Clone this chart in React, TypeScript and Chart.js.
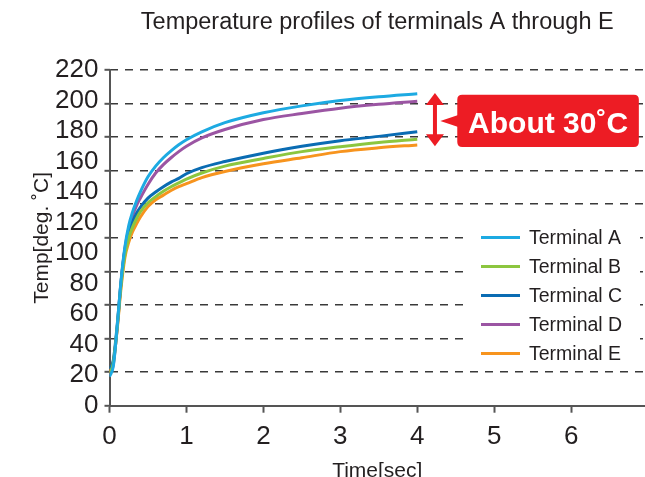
import React, { useEffect, useRef } from 'react';
import { Chart, registerables } from 'chart.js';

Chart.register(...registerables);

// ---- data ----
const TITLE = 'Temperature profiles of terminals A through E';
const X_TITLE = 'Time[sec]';
const Y_TITLE = 'Temp[deg. ˚C]';
const SERIES_LABELS = ['Terminal A', 'Terminal B', 'Terminal C', 'Terminal D', 'Terminal E'];
const SERIES_COLORS = ['#1DAAE2', '#8CC63F', '#0A6CB3', '#9B55A3', '#F7941E'];

const TIMES = [0, 0.05, 0.1, 0.15, 0.2, 0.25, 0.3, 0.35, 0.4, 0.5, 0.6, 0.7, 0.8, 0.9, 1.0, 1.2, 1.5, 2.0, 2.5, 3.0, 3.5, 4.0];
const TERMINAL_A = [19, 26, 52, 82, 104, 118, 127, 134, 140, 150, 157, 162.5, 167, 171, 174.3, 179.5, 185.5, 192, 196.5, 200, 202.5, 204.5];
const TERMINAL_B = [21, 28, 51, 79, 99, 110, 117, 122.5, 127, 133, 137, 140.5, 143.5, 146, 148.5, 152.5, 157, 162, 166.5, 169.7, 172.5, 174.6];
const TERMINAL_C = [24, 30, 53, 81, 102, 113, 120.5, 126, 130, 136, 140, 143.5, 146.5, 149, 152, 156, 160, 165.5, 170, 173.7, 176.5, 179.6];
const TERMINAL_D = [20, 27, 51, 81, 103, 116, 124.5, 131, 136, 145, 152.5, 158, 162.5, 166.5, 170, 175.5, 181, 187.5, 191.5, 195, 197.5, 199.5];
const TERMINAL_E = [22, 29, 50, 77, 97, 107, 114, 119, 123.5, 130.5, 135, 138, 141, 143.5, 145.5, 149.5, 153.5, 158.5, 162.5, 166.5, 169, 170.9];
const SERIES_VALUES = [TERMINAL_A, TERMINAL_B, TERMINAL_C, TERMINAL_D, TERMINAL_E];

const Y_MIN = 0;
const Y_MAX = 220;
const Y_LABEL_STEP = 20;
const Y_GRID_STEP = 22;
const X_MIN = 0;
const X_MAX = 6.96;
const X_STEP = 1;

const NOTE_TEXT = 'About 30˚C';
const NOTE_ARROW_T = 4.23;
const NOTE_ARROW_TOP = 205;
const NOTE_ARROW_BOTTOM = 170;
const NOTE_BOX_T0 = 4.52;
const NOTE_BOX_T1 = 6.88;
const NOTE_BOX_TOP = 203.8;
const NOTE_BOX_BOTTOM = 169.5;
const NOTE_POINTER_T = 4.3;
const NOTE_POINTER_V = 186.6;

const FONT = '"Liberation Sans", Arial, Helvetica, sans-serif';
const TEXT_COLOR = '#231F20';
const RED = '#ED1C24';

const overlayPlugin = {
  id: 'overlay',
  afterDatasetsDraw(chart: any) {
    const { ctx, scales } = chart;
    const xs = scales.x;
    const ys = scales.y;
    ctx.save();
    // legend
    const legendX = 481;
    const legendTop = 237.5;
    const row = 29;
    const n = chart.data.datasets.length;
    ctx.fillStyle = '#FFFFFF';
    ctx.fillRect(468, legendTop - 15, 172, (n - 1) * row + 30);
    ctx.font = `19.5px ${FONT}`;
    ctx.textBaseline = 'middle';
    ctx.textAlign = 'left';
    chart.data.datasets.forEach((ds: any, i: number) => {
      const ly = legendTop + i * row;
      ctx.strokeStyle = ds.borderColor;
      ctx.lineWidth = 3;
      ctx.beginPath();
      ctx.moveTo(legendX, ly);
      ctx.lineTo(legendX + 39, ly);
      ctx.stroke();
      ctx.fillStyle = TEXT_COLOR;
      ctx.fillText(ds.label, legendX + 48, ly + 1);
    });

    // annotation arrow
    const ax = xs.getPixelForValue(NOTE_ARROW_T);
    const aTop = ys.getPixelForValue(NOTE_ARROW_TOP);
    const aBot = ys.getPixelForValue(NOTE_ARROW_BOTTOM);
    ctx.fillStyle = RED;
    ctx.strokeStyle = RED;
    ctx.lineWidth = 4;
    ctx.beginPath();
    ctx.moveTo(ax, aTop + 8);
    ctx.lineTo(ax, aBot - 8);
    ctx.stroke();
    const hw = 9;
    const hh = 12;
    ctx.beginPath();
    ctx.moveTo(ax, aTop);
    ctx.lineTo(ax + hw, aTop + hh);
    ctx.lineTo(ax - hw, aTop + hh);
    ctx.closePath();
    ctx.fill();
    ctx.beginPath();
    ctx.moveTo(ax, aBot);
    ctx.lineTo(ax + hw, aBot - hh);
    ctx.lineTo(ax - hw, aBot - hh);
    ctx.closePath();
    ctx.fill();

    // box
    const bx0 = xs.getPixelForValue(NOTE_BOX_T0);
    const bx1 = xs.getPixelForValue(NOTE_BOX_T1);
    const by0 = ys.getPixelForValue(NOTE_BOX_TOP);
    const by1 = ys.getPixelForValue(NOTE_BOX_BOTTOM);
    const r = 5;
    ctx.beginPath();
    ctx.moveTo(bx0 + r, by0);
    ctx.lineTo(bx1 - r, by0);
    ctx.quadraticCurveTo(bx1, by0, bx1, by0 + r);
    ctx.lineTo(bx1, by1 - r);
    ctx.quadraticCurveTo(bx1, by1, bx1 - r, by1);
    ctx.lineTo(bx0 + r, by1);
    ctx.quadraticCurveTo(bx0, by1, bx0, by1 - r);
    ctx.lineTo(bx0, by0 + r);
    ctx.quadraticCurveTo(bx0, by0, bx0 + r, by0);
    ctx.closePath();
    ctx.fill();
    // pointer
    const px = xs.getPixelForValue(NOTE_POINTER_T);
    const py = ys.getPixelForValue(NOTE_POINTER_V);
    ctx.beginPath();
    ctx.moveTo(px, py);
    ctx.lineTo(bx0 + 1, py - 6);
    ctx.lineTo(bx0 + 1, py + 6);
    ctx.closePath();
    ctx.fill();
    // text
    ctx.fillStyle = '#FFFFFF';
    ctx.font = `bold 30px ${FONT}`;
    ctx.textAlign = 'center';
    ctx.textBaseline = 'alphabetic';
    ctx.fillText(NOTE_TEXT, (bx0 + bx1) / 2, (by0 + by1) / 2 + 12);
    ctx.restore();
  },
};

export default function App() {
  const ref = useRef<HTMLCanvasElement | null>(null);
  useEffect(() => {
    if (!ref.current) return;
    Chart.defaults.font.family = FONT;
    const datasets = SERIES_LABELS.map((label, i) => ({
      label,
      data: TIMES.map((t, j) => ({ x: t, y: SERIES_VALUES[i][j] })),
      borderColor: SERIES_COLORS[i],
      backgroundColor: SERIES_COLORS[i],
      borderWidth: 3,
      pointRadius: 0,
      cubicInterpolationMode: 'monotone' as const,
      xAxisID: 'x',
      yAxisID: 'y',
    }));
    const chart = new Chart(ref.current, {
      type: 'line',
      data: { datasets },
      options: {
        animation: false,
        responsive: false,
        layout: { padding: 0 },
        plugins: {
          legend: { display: false },
          tooltip: { enabled: false },
          title: {
            display: true,
            text: TITLE,
            fullSize: false,
            color: TEXT_COLOR,
            font: { size: 23.5, weight: 'normal', family: FONT },
            padding: { top: 8, bottom: 33.8 },
          },
        },
        scales: {
          x: {
            type: 'linear',
            position: 'bottom',
            min: X_MIN,
            max: X_MAX,
            ticks: {
              stepSize: X_STEP,
              includeBounds: false,
              autoSkip: false,
              maxRotation: 0,
              color: TEXT_COLOR,
              font: { size: 26 },
              padding: 9,
            },
            grid: {
              drawOnChartArea: false,
              drawTicks: true,
              tickLength: 7,
              tickColor: '#555555',
              tickWidth: 2,
            },
            border: { display: true, color: '#555555', width: 2 },
            title: {
              display: true,
              text: X_TITLE,
              color: TEXT_COLOR,
              font: { size: 21 },
              padding: { top: 0, bottom: -7 },
            },
            afterFit(scale: any) {
              scale.height = 71.3;
            },
          },
          y: {
            type: 'linear',
            position: 'left',
            weight: 1,
            min: Y_MIN,
            max: Y_MAX,
            ticks: {
              stepSize: Y_LABEL_STEP,
              autoSkip: false,
              maxTicksLimit: 20,
              color: TEXT_COLOR,
              font: { size: 26 },
              padding: 11,
            },
            grid: { display: false, drawTicks: false },
            border: { display: true, color: '#555555', width: 2 },
            title: {
              display: true,
              text: Y_TITLE,
              color: TEXT_COLOR,
              font: { size: 21 },
              padding: { top: 30, bottom: 0 },
            },
            afterFit(scale: any) {
              scale.width = 109.5;
            },
          },
          yg: {
            type: 'linear',
            position: 'left',
            weight: 0,
            min: Y_MIN,
            max: Y_MAX,
            ticks: { stepSize: Y_GRID_STEP, display: false, autoSkip: false },
            grid: {
              color: (c: any) => (c.tick && c.tick.value === 0 ? 'rgba(0,0,0,0)' : '#3A3A3A'),
              lineWidth: 1.6,
              drawTicks: true,
              tickLength: 5,
              tickColor: '#555555',
              tickWidth: 2,
            },
            border: { display: false, dash: [8, 7] },
            afterFit(scale: any) {
              scale.width = 0;
            },
          },
        },
      },
      plugins: [overlayPlugin],
    });
    return () => chart.destroy();
  }, []);
  return (
    <div style={{ position: 'fixed', left: 0, top: 0, width: 645, height: 477, background: '#fff' }}>
      <canvas ref={ref} width={645} height={477} style={{ display: 'block' }} />
    </div>
  );
}
